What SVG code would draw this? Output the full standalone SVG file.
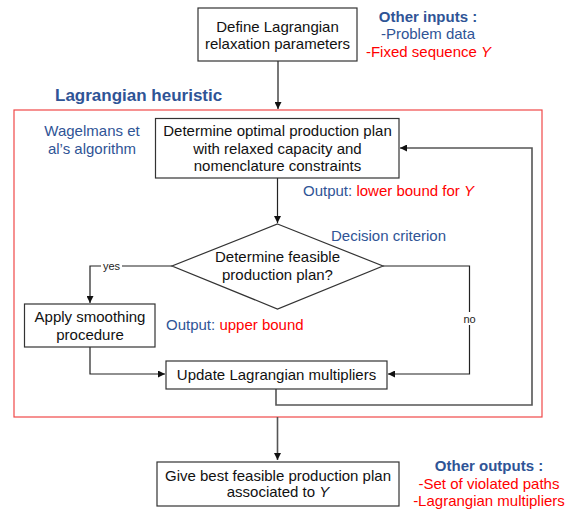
<svg xmlns="http://www.w3.org/2000/svg" width="579" height="509" viewBox="0 0 579 509">
<style>
text{font-family:"Liberation Sans",Arial,sans-serif;font-size:15px;fill:#111}
.c{text-anchor:middle}
.blue{fill:#2F5496}
.red{fill:#FF0000}
.b{font-weight:bold}
.lbl{font-size:11px;text-anchor:middle;fill:#222}
.box{fill:#fff;stroke:#333;stroke-width:1.2}
.ln{fill:none;stroke:#222;stroke-width:1.2}
.lg{fill:none;stroke:#555;stroke-width:1.6}
</style>
<defs>
<marker id="ah" viewBox="0 0 10 10" refX="10" refY="5" markerWidth="7" markerHeight="7" markerUnits="userSpaceOnUse" orient="auto">
<path d="M0,0 L10,5 L0,10 z" fill="#111"/>
</marker>
</defs>
<rect id="heuristic" x="14" y="110" width="528" height="307" fill="none" stroke="#F04848" stroke-width="1.2"/>
<text class="blue b" x="55" y="101" style="font-size:17px">Lagrangian heuristic</text>
<g id="connectors">
<path class="lg" d="M278,61 V109" marker-end="url(#ah)"/>
<path class="ln" d="M277.5,178 V223" marker-end="url(#ah)"/>
<path class="ln" d="M172,266 H90 V303" marker-end="url(#ah)"/>
<path class="ln" d="M383,266 H469.5 V374 H388" marker-end="url(#ah)"/>
<path class="ln" d="M90,347 V374 H165" marker-end="url(#ah)"/>
<path class="lg" d="M276,389 V405 H532 V148 H400" marker-end="url(#ah)"/>
<path class="lg" d="M277.5,417 V460" marker-end="url(#ah)"/>
<rect x="101" y="259" width="21" height="13" fill="#fff"/>
<text class="lbl" x="111.5" y="270">yes</text>
<rect x="461" y="312" width="17" height="13" fill="#fff"/>
<text class="lbl" x="469.5" y="323">no</text>
</g>
<g id="define">
<rect class="box" x="198" y="8" width="159" height="53"/>
<text class="c" x="277.5" y="32">Define Lagrangian</text>
<text class="c" x="277.5" y="49">relaxation parameters</text>
</g>
<g id="inputs">
<text class="c blue b" x="428" y="22">Other inputs :</text>
<text class="c blue" x="428" y="39">-Problem data</text>
<text class="c red" x="428.5" y="56.5">-Fixed sequence <tspan font-style="italic">Y</tspan></text>
</g>
<g id="optimal">
<rect class="box" x="155.5" y="118.5" width="243.5" height="59.5"/>
<text class="c" x="277.5" y="136">Determine optimal production plan</text>
<text class="c" x="277.5" y="153.5">with relaxed capacity and</text>
<text class="c" x="277.5" y="171">nomenclature constraints</text>
</g>
<g id="wagelmans">
<text class="c blue" x="92" y="136">Wagelmans et</text>
<text class="c blue" x="92" y="153.5">al’s algorithm</text>
</g>
<text id="lowerbound" class="blue" x="303" y="196">Output: <tspan class="red">lower bound for <tspan font-style="italic">Y</tspan></tspan></text>
<g id="decision">
<polygon points="277.5,224 383,266 277.5,309 172,266" fill="#fff" stroke="#333" stroke-width="1.2"/>
<text class="c" x="277.5" y="262">Determine feasible</text>
<text class="c" x="277.5" y="280">production plan?</text>
</g>
<text id="criterion" class="blue" x="331" y="241">Decision criterion</text>
<g id="smoothing">
<rect class="box" x="24.5" y="304" width="130.5" height="43"/>
<text class="c" x="90" y="322">Apply smoothing</text>
<text class="c" x="90" y="339.5">procedure</text>
</g>
<text id="upperbound" class="blue" x="166" y="330">Output: <tspan class="red">upper bound</tspan></text>
<g id="update">
<rect class="box" x="166" y="361" width="221" height="28"/>
<text class="c" x="276.5" y="380">Update Lagrangian multipliers</text>
</g>
<g id="best">
<rect class="box" x="157" y="462" width="242" height="44"/>
<text class="c" x="278" y="481">Give best feasible production plan</text>
<text class="c" x="278" y="497">associated to <tspan font-style="italic">Y</tspan></text>
</g>
<g id="outputs">
<text class="c blue b" x="489" y="471">Other outputs :</text>
<text class="c red" x="489" y="489">-Set of violated paths</text>
<text class="c red" x="489" y="506">-Lagrangian multipliers</text>
</g>
</svg>
